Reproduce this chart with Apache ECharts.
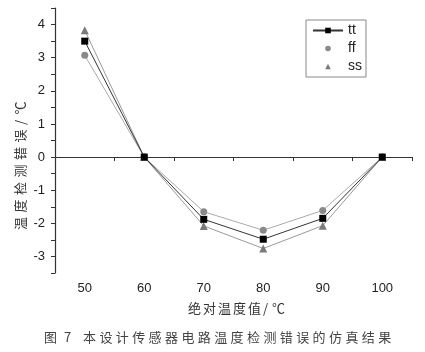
<!DOCTYPE html>
<html><head><meta charset="utf-8">
<script src="https://cdn.jsdelivr.net/npm/echarts@6/dist/echarts.min.js"></script>
<style>html,body{margin:0;padding:0;background:#fff}#c{width:425px;height:352px}</style>
</head><body><div id="c"></div>
<script>
const xValues = [50, 60, 70, 80, 90, 100];
const ttValues = [3.5, 0, -1.88, -2.48, -1.85, 0];
const ffValues = [3.07, 0, -1.65, -2.21, -1.61, 0];
const ssValues = [3.83, 0, -2.08, -2.76, -2.07, 0];
const yTicks = [-3, -2, -1, 0, 1, 2, 3, 4];
const xLabelValues = [50, 60, 70, 80, 90, 100];
const xTickValues = [45, 55, 65, 75, 85, 95, 105];
const xTitle = '绝对温度值/℃';
const yTitle = '温度检测错误/℃';
const captionLabel = '图7';
const caption = '本设计传感器电路温度检测错误的仿真结果';

const pair = v => xValues.map((x, i) => [x, v[i]]);

// place characters one by one with a fixed step (letter-spaced text)
function spaced(str, x0, y0, step, font, fill, vertical) {
  const out = [];
  let pos = 0;
  for (const ch of Array.from(str)) {
    const narrow = ch === '/' || /[0-9]/.test(ch);
    const w = narrow ? step * 0.6 : step;
    if (vertical) {
      out.push({type: 'text', x: x0, y: y0 - pos, rotation: Math.PI / 2,
        style: {text: ch, font: font, fill: fill, textAlign: 'left', textVerticalAlign: 'middle'}});
    } else {
      out.push({type: 'text', x: x0 + pos, y: y0,
        style: {text: ch, font: font, fill: fill, textAlign: 'left', textVerticalAlign: 'middle'}});
    }
    pos += w;
  }
  return out;
}

const chart = echarts.init(document.getElementById('c'));
const axisFont = {fontFamily: 'Liberation Sans, Arial', fontSize: 13, color: '#222'};
const cjk = '13px "Noto Sans CJK SC"';
chart.setOption({
  animation: false,
  grid: {left: 55, right: 13, top: 8, bottom: 79},
  xAxis: {
    type: 'value', min: 45, max: 105, interval: 5,
    axisLine: {lineStyle: {color: '#333', width: 1.2}},
    axisTick: {show: true, length: 4, lineStyle: {color: '#333'}, customValues: xTickValues},
    axisLabel: Object.assign({margin: 9, customValues: xLabelValues}, axisFont),
    splitLine: {show: false}
  },
  yAxis: {
    type: 'value', min: -3.5, max: 4.5, interval: 0.5,
    axisLine: {show: true, lineStyle: {color: '#333', width: 1.2}},
    axisTick: {show: true, length: 4, lineStyle: {color: '#333'}},
    axisLabel: Object.assign({margin: 10, formatter: v => (yTicks.indexOf(v) >= 0 ? String(v) : '')}, axisFont),
    splitLine: {show: false}
  },
  legend: {
    left: 306, top: 20, orient: 'vertical', itemGap: 1,
    itemWidth: 30, itemHeight: 7,
    padding: [2, 4, 2, 6],
    borderColor: '#888', borderWidth: 1,
    textStyle: {fontFamily: 'Liberation Sans, Arial', fontSize: 14, color: '#222', lineHeight: 17},
    data: [
      {name: 'tt'},
      {name: 'ff', lineStyle: {opacity: 0}},
      {name: 'ss', lineStyle: {opacity: 0}}
    ]
  },
  graphic: [].concat(
    spaced(xTitle, 188, 308, 15, cjk, '#333', false),
    spaced(yTitle, 20, 230, 17.5, cjk, '#333', true),
    spaced(captionLabel, 44, 337, 20, cjk, '#444', false),
    spaced(caption, 83, 337, 16.4, cjk, '#444', false)
  ),
  series: [
    {name: 'tt', type: 'line', data: pair(ttValues), symbol: 'rect', symbolSize: 7,
     itemStyle: {color: '#000'}, lineStyle: {color: '#333', width: 1}, z: 3},
    {name: 'ff', type: 'line', data: pair(ffValues), symbol: 'circle', symbolSize: 7,
     itemStyle: {color: '#8a8a8a'}, lineStyle: {color: '#aaa', width: 1}, z: 2},
    {name: 'ss', type: 'line', data: pair(ssValues), symbol: 'triangle', symbolSize: 8,
     itemStyle: {color: '#7a7a7a'}, lineStyle: {color: '#999', width: 1}, z: 1}
  ]
});
</script></body></html>
